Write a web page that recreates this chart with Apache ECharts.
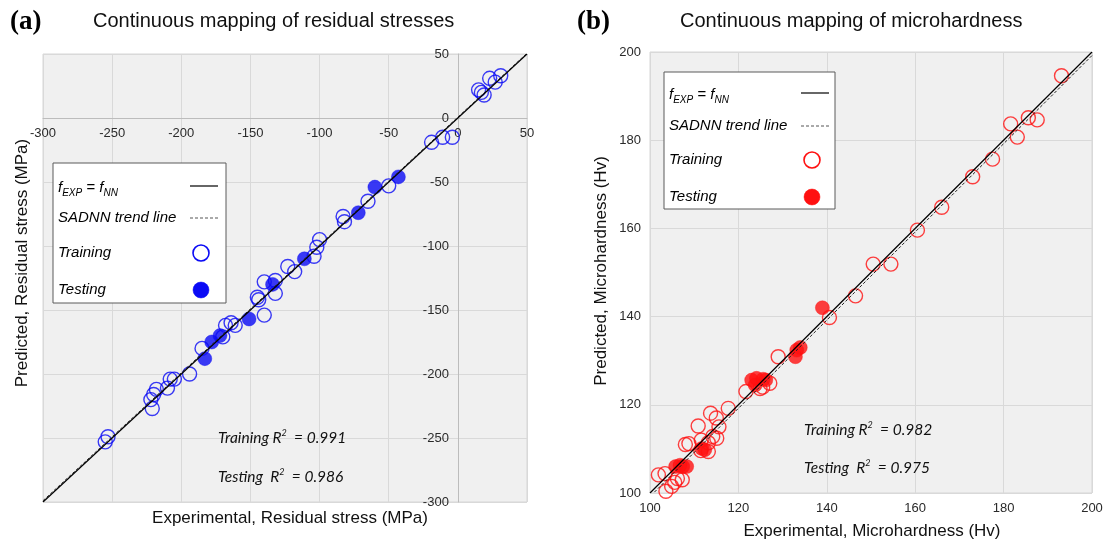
<!DOCTYPE html>
<html>
<head>
<meta charset="utf-8">
<script src="https://cdn.jsdelivr.net/npm/echarts@6/dist/echarts.min.js"></script>
<style>
  html, body { margin: 0; padding: 0; background: #ffffff; }
  #chart { width: 1107px; height: 543px; }
</style>
</head>
<body>
<div id="chart"></div>
<script>
// ---- Panel (a): residual stress, experimental vs predicted (MPa) ----
const residualTraining = [
  [-255, -253], [-253, -249],
  [-222, -220], [-221, -227], [-220, -216], [-218, -212],
  [-210, -211], [-208, -204], [-205, -204],
  [-194, -200], [-185, -180], [-170, -171],
  [-168, -162], [-164, -160], [-161, -162],
  [-145, -140], [-144, -142], [-140, -154],
  [-140, -128], [-132, -127], [-132, -137],
  [-123, -116], [-118, -120],
  [-104, -108], [-102, -101], [-100, -95],
  [-83, -77], [-82, -81], [-65, -65], [-50, -53],
  [-19, -19], [-11, -15], [-4, -15],
  [15, 22], [17, 20], [19, 18], [23, 31], [27, 28], [31, 33]
];
const residualTesting = [
  [-183, -188], [-178, -175], [-172, -170], [-151, -157],
  [-134, -130], [-111, -110], [-72, -74], [-60, -54], [-43, -46]
];
const residualIdentity = [[-300, -300], [50, 50]];
const residualTrend = [[-300, -299], [50, 50.6]];
const residualRange = [-300, 50];
const residualR2 = { training: '0.991', testing: '0.986' };

// ---- Panel (b): microhardness, experimental vs predicted (Hv) ----
const hardnessTraining = [
  [101.9, 104.1], [103.4, 104.4], [103.6, 100.4], [104.9, 101.5],
  [105.6, 102.4], [106.2, 103.3], [107.3, 103.0],
  [108.0, 111.0], [108.8, 111.2], [110.9, 115.2],
  [111.6, 112.0], [111.5, 109.6], [113.2, 109.4], [113.2, 111.4],
  [114.2, 112.8], [115.1, 112.4], [113.7, 118.1], [115.0, 117.0],
  [115.6, 115.0], [117.7, 119.2],
  [121.7, 123.0], [124.9, 123.7], [125.5, 124.0], [127.1, 124.9],
  [129.0, 130.9], [140.6, 139.8], [146.5, 144.7],
  [150.5, 151.9], [154.5, 151.9], [160.5, 159.6], [166.0, 164.8],
  [173.0, 171.7], [177.5, 175.7], [181.6, 183.7], [183.1, 180.7],
  [185.6, 185.1], [187.6, 184.6], [193.1, 194.6]
];
const hardnessTesting = [
  [105.8, 106.0], [106.8, 106.3], [107.4, 106.0], [108.3, 106.0],
  [111.7, 110.1], [112.4, 109.8],
  [123.0, 125.6], [123.8, 124.5], [124.1, 126.0], [125.6, 125.8], [126.2, 125.6],
  [132.9, 130.9], [133.2, 132.4], [134.0, 133.0], [139.0, 142.0]
];
const hardnessIdentity = [[100, 100], [200, 200]];
const hardnessTrend = [[101, 100.2], [200, 199.2]];
const hardnessRange = [100, 200];
const hardnessR2 = { training: '0.982', testing: '0.975' };

const BLUE = '#0a0af5';
const RED = '#ff1010';
const SANS = '"Liberation Sans", Arial, sans-serif';

// plot rectangles of the two panels
const gridA = { left: 43, top: 54, width: 484, height: 448 };
const gridB = { left: 650, top: 52, width: 442, height: 441 };

const chart = echarts.init(document.getElementById('chart'), null, { renderer: 'canvas' });

function gridCfg(g) {
  return Object.assign({
    show: true, backgroundColor: '#f0f0f0', borderColor: '#d6d6d6', borderWidth: 1,
    containLabel: false
  }, g);
}

// offset (px) that moves an edge axis (bottom / left) onto the zero of the crossing axis
function zeroOffset(range, span) {
  const frac = (0 - range[0]) / (range[1] - range[0]);
  return -frac * span;
}

function axisCfg(gridIndex, range, interval, zeroOffsetPx) {
  const crossing = zeroOffsetPx != null;
  return {
    type: 'value', gridIndex, min: range[0], max: range[1], interval,
    offset: crossing ? zeroOffsetPx : 0,
    axisLine: crossing
      ? { show: true, onZero: false, lineStyle: { color: '#bcbcbc', width: 1 } }
      : { show: false, onZero: false },
    axisTick: { show: false },
    splitLine: { show: true, lineStyle: { color: '#d9d9d9', width: 1 } },
    axisLabel: {
      color: '#2a2a2a', fontSize: 13, fontFamily: SANS,
      margin: 9, showMinLabel: true, showMaxLabel: true
    }
  };
}

function openSeries(data, color, xi) {
  return {
    type: 'scatter', xAxisIndex: xi, yAxisIndex: xi, data,
    symbol: 'circle', symbolSize: 14, silent: true,
    itemStyle: { color: 'rgba(0,0,0,0)', borderColor: color, borderWidth: 1.4 },
    emphasis: { disabled: true }, z: 3
  };
}
function filledSeries(data, color, xi) {
  return {
    type: 'scatter', xAxisIndex: xi, yAxisIndex: xi, data,
    symbol: 'circle', symbolSize: 14, silent: true,
    itemStyle: { color, borderColor: color, borderWidth: 0.5 },
    emphasis: { disabled: true }, z: 3
  };
}
function lineSeries(data, xi, dashed) {
  return {
    type: 'line', xAxisIndex: xi, yAxisIndex: xi, data,
    symbol: 'none', silent: true, animation: false,
    lineStyle: dashed
      ? { color: '#222222', width: 1, type: [3, 2] }
      : { color: '#000000', width: 1.2 },
    z: 4
  };
}

// Legend box drawn with graphic primitives
function legendBox(x, y, w, h, rows, symX, lineX1, lineX2, color) {
  const els = [];
  els.push({ type: 'rect', shape: { x, y, width: w, height: h },
    style: { fill: '#ffffff', stroke: '#5a5a5a', lineWidth: 1 }, z: 10 });
  const tx = x + 5;
  els.push({ type: 'text', x: tx, y: rows[0], z: 11, style: {
    text: '{f|f}{s|EXP}{f| = f}{s|NN}',
    verticalAlign: 'middle',
    rich: {
      f: { fontFamily: SANS, fontStyle: 'italic', fontSize: 15, lineHeight: 20, fill: '#000', verticalAlign: 'middle' },
      s: { fontFamily: SANS, fontStyle: 'italic', fontSize: 10, lineHeight: 11, fill: '#000', verticalAlign: 'bottom' }
    }
  }});
  const labels = ['SADNN trend line', 'Training', 'Testing'];
  labels.forEach((t, i) => {
    els.push({ type: 'text', x: tx, y: rows[i + 1], z: 11, style: {
      text: t, fontFamily: SANS, fontStyle: 'italic', fontSize: 15, fill: '#000',
      verticalAlign: 'middle'
    }});
  });
  els.push({ type: 'line', z: 11, shape: { x1: lineX1, y1: rows[0] - 2, x2: lineX2, y2: rows[0] - 2 },
    style: { stroke: '#000', lineWidth: 1.2 } });
  els.push({ type: 'line', z: 11, shape: { x1: lineX1, y1: rows[1], x2: lineX2 + 2, y2: rows[1] },
    style: { stroke: '#555', lineWidth: 1, lineDash: [3, 2] } });
  els.push({ type: 'circle', z: 11, shape: { cx: symX, cy: rows[2], r: 8 },
    style: { fill: '#ffffff', stroke: color, lineWidth: 1.6 } });
  els.push({ type: 'circle', z: 11, shape: { cx: symX, cy: rows[3], r: 8 },
    style: { fill: color, stroke: color, lineWidth: 0.5 } });
  return els;
}

function r2Text(x, y, label, value) {
  return { type: 'text', x, y, z: 11, style: {
    text: '{t|' + label + ' R}{p|2}{t|  = ' + value + '}',
    verticalAlign: 'middle',
    rich: {
      t: { fontFamily: 'Lato, "Open Sans", sans-serif', fontStyle: 'italic', fontSize: 15.5, lineHeight: 18, fill: '#111', verticalAlign: 'middle' },
      p: { fontFamily: 'Lato, "Open Sans", sans-serif', fontStyle: 'italic', fontSize: 9, lineHeight: 10, fill: '#111', verticalAlign: 'top' }
    }
  }};
}

function plainText(x, y, text, size, extra) {
  return { type: 'text', x, y, z: 11, style: Object.assign({
    text, fontFamily: SANS, fontSize: size, fill: '#111', verticalAlign: 'middle', align: 'left'
  }, extra || {}) };
}

const graphic = [
  // panel titles
  plainText(10, 22, '(a)', 27, { fontFamily: '"Liberation Serif", serif', fontWeight: 'bold', fill: '#000' }),
  plainText(93, 21, 'Continuous mapping of residual stresses', 20),
  plainText(577, 22, '(b)', 27, { fontFamily: '"Liberation Serif", serif', fontWeight: 'bold', fill: '#000' }),
  plainText(680, 21, 'Continuous mapping of microhardness', 20),
  // axis names
  plainText(290, 518, 'Experimental, Residual stress (MPa)', 17, { align: 'center' }),
  Object.assign(plainText(22, 263, 'Predicted, Residual stress (MPa)', 17, { align: 'center' }), { rotation: Math.PI / 2 }),
  plainText(872, 531, 'Experimental, Microhardness (Hv)', 17, { align: 'center' }),
  Object.assign(plainText(601, 271, 'Predicted, Microhardness (Hv)', 17, { align: 'center' }), { rotation: Math.PI / 2 }),
  // coefficient of determination
  r2Text(218, 438, 'Training', residualR2.training),
  r2Text(218, 477, 'Testing ', residualR2.testing),
  r2Text(804, 430, 'Training', hardnessR2.training),
  r2Text(804, 468, 'Testing ', hardnessR2.testing)
]
  .concat(legendBox(53, 163, 173, 140, [188, 218, 253, 290], 201, 190, 218, BLUE))
  .concat(legendBox(664, 72, 171, 137, [95, 126, 160, 197], 812, 801, 829, RED));

chart.setOption({
  animation: false,
  backgroundColor: '#ffffff',
  grid: [gridCfg(gridA), gridCfg(gridB)],
  xAxis: [
    // bottom axis lifted to y = 0
    axisCfg(0, residualRange, 50, zeroOffset(residualRange, gridA.height)),
    axisCfg(1, hardnessRange, 20, null)
  ],
  yAxis: [
    // left axis shifted right to x = 0
    axisCfg(0, residualRange, 50, zeroOffset(residualRange, gridA.width)),
    axisCfg(1, hardnessRange, 20, null)
  ],
  series: [
    openSeries(residualTraining, BLUE, 0),
    filledSeries(residualTesting, BLUE, 0),
    lineSeries(residualIdentity, 0, false),
    lineSeries(residualTrend, 0, true),
    openSeries(hardnessTraining, RED, 1),
    filledSeries(hardnessTesting, RED, 1),
    lineSeries(hardnessIdentity, 1, false),
    lineSeries(hardnessTrend, 1, true)
  ],
  graphic
});
</script>
</body>
</html>
